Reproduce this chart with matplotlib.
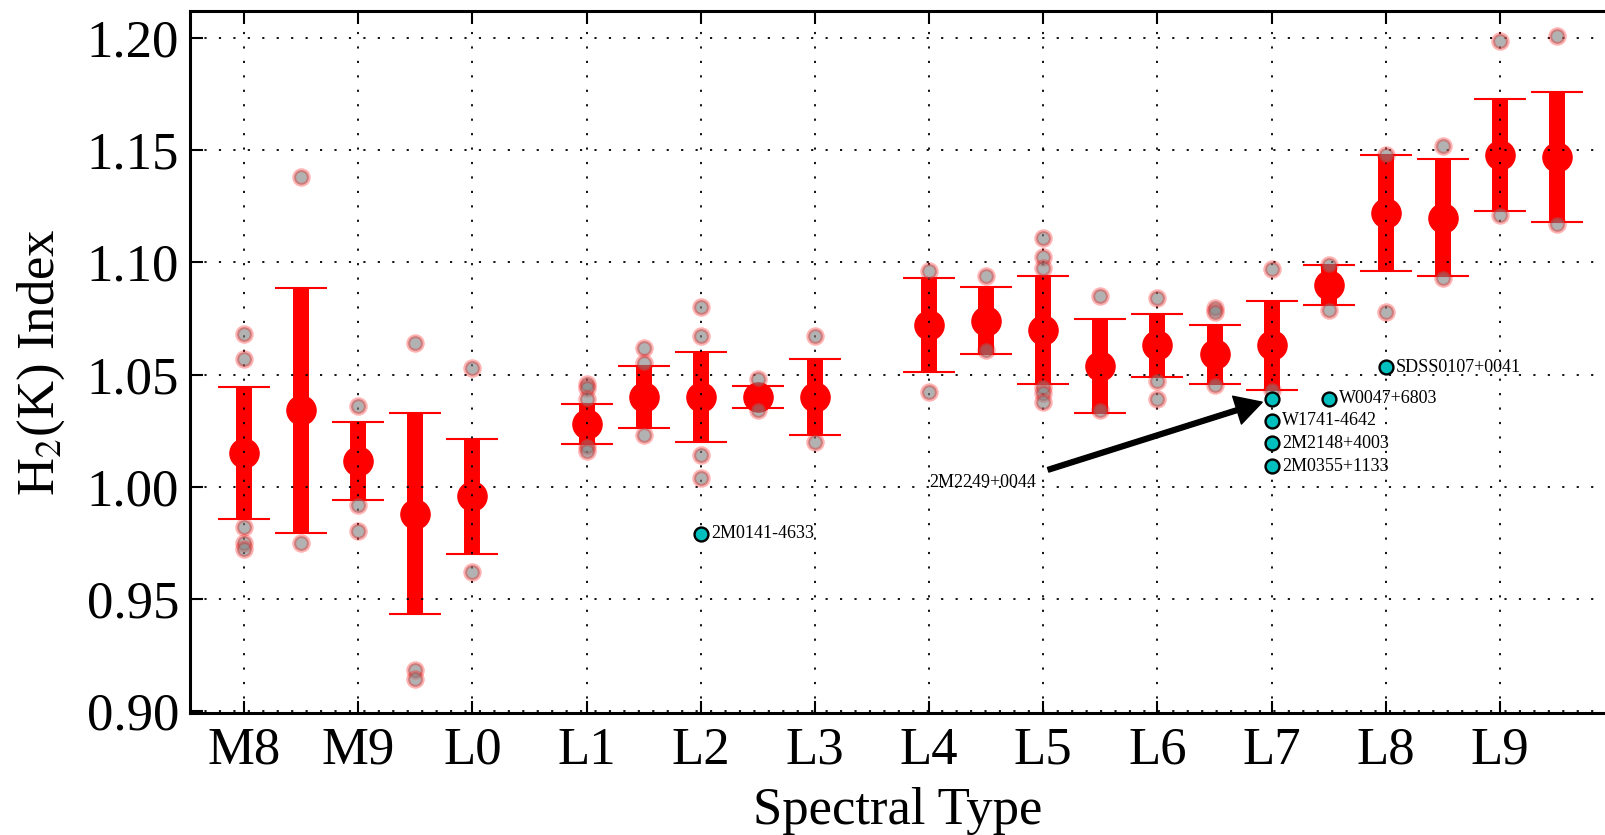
import matplotlib
matplotlib.use("Agg")
import matplotlib.pyplot as plt
import numpy as np

plt.rcParams['font.family'] = ['Liberation Serif', 'DejaVu Serif']
plt.rcParams['mathtext.fontset'] = 'stix'

# ---- data ----
# spectral type numeric: M8=0, M9=1, L0=2, ... L9=11
tick_pos = [0, 1, 2, 3, 4, 5, 6, 7, 8, 9, 10, 11]
tick_labels = ['M8', 'M9', 'L0', 'L1', 'L2', 'L3', 'L4', 'L5', 'L6', 'L7', 'L8', 'L9']

mean_type = [0, 0.5, 1, 1.5, 2, 3, 3.5, 4, 4.5, 5, 6, 6.5, 7, 7.5, 8, 8.5, 9, 9.5, 10, 10.5, 11, 11.5]
mean_val = [1.015, 1.034, 1.0115, 0.988, 0.9956, 1.028, 1.040, 1.040, 1.040, 1.040,
            1.072, 1.074, 1.070, 1.054, 1.063, 1.059, 1.063, 1.090, 1.122, 1.120, 1.148, 1.147]
mean_err = [0.0295, 0.0547, 0.0174, 0.045, 0.0257, 0.009, 0.014, 0.020, 0.005, 0.017,
            0.021, 0.015, 0.024, 0.021, 0.014, 0.013, 0.020, 0.009, 0.026, 0.026, 0.025, 0.029]

pt_type = [0, 0, 0, 0, 0,
           0.5, 0.5,
           1, 1, 1,
           1.5, 1.5, 1.5,
           2, 2,
           3, 3, 3, 3, 3,
           3.5, 3.5, 3.5,
           4, 4, 4, 4,
           4.5, 4.5,
           5, 5,
           6, 6,
           6.5, 6.5,
           7, 7, 7, 7, 7, 7,
           7.5, 7.5,
           8, 8, 8,
           8.5, 8.5, 8.5,
           9, 9,
           9.5, 9.5,
           10, 10,
           10.5, 10.5,
           11, 11,
           11.5, 11.5]
pt_val = [1.068, 1.057, 0.982, 0.975, 0.972,
          1.138, 0.975,
          1.036, 0.992, 0.980,
          1.064, 0.918, 0.914,
          1.053, 0.962,
          1.046, 1.044, 1.039, 1.018, 1.016,
          1.062, 1.055, 1.023,
          1.080, 1.067, 1.014, 1.004,
          1.048, 1.034,
          1.067, 1.020,
          1.096, 1.042,
          1.094, 1.061,
          1.111, 1.1026, 1.0976, 1.0445, 1.0416, 1.0378,
          1.085, 1.034,
          1.084, 1.047, 1.039,
          1.0795, 1.078, 1.0455,
          1.097, 1.043,
          1.099, 1.079,
          1.148, 1.078,
          1.152, 1.093,
          1.199, 1.121,
          1.201, 1.117]

obj_type = [4, 9, 9, 9, 9, 9.5, 10]
obj_val = [0.979, 1.039, 1.0294, 1.0193, 1.0091, 1.0392, 1.0532]
obj_name = ['2M0141-4633', '2M2249+0044', 'W1741-4642', '2M2148+4003',
            '2M0355+1133', 'W0047+6803', 'SDSS0107+0041']
arrow_obj = '2M2249+0044'
arrow_text_pos = (6.0, 1.0)

# ---- figure ----
W, H = 1605, 835
fig = plt.figure(figsize=(W / 100, H / 100), dpi=100)
ax = fig.add_axes([190 / W, 1 - 713 / H, (W - 190) / W, (713 - 11) / H])

ax.errorbar(mean_type, mean_val, yerr=mean_err, fmt='o', color='red',
            ms=21, elinewidth=11.5, capsize=19, capthick=1.5, ecolor='red',
            mec='red', zorder=2)

ax.plot(pt_type, pt_val, 'o', ls='none', ms=10.5, mew=2.8,
        mfc=(0.5, 0.5, 0.5, 0.6), mec=(1, 0, 0, 0.3), zorder=3)

ax.plot(obj_type, obj_val, 'o', ls='none', ms=10, mew=1.7,
        mfc='c', mec='k', zorder=4)

for xx, yy, nm in zip(obj_type, obj_val, obj_name):
    if nm == arrow_obj:
        ax.annotate(nm, xy=(xx, yy), xytext=arrow_text_pos, fontsize=13,
                    arrowprops=dict(facecolor='black', edgecolor='black',
                                    shrink=0.04, width=3.5, headwidth=21,
                                    headlength=19), zorder=5)
    else:
        ax.text(xx + 0.09, yy, nm, fontsize=13, va='center', ha='left', zorder=5)

ax.set_xlim(-0.473, (W - 244) / 114.18)
ax.set_ylim(0.899, 1.2122)
ax.set_xticks(tick_pos)
ax.set_xticklabels(tick_labels)
ax.set_yticks([0.90, 0.95, 1.00, 1.05, 1.10, 1.15, 1.20])
ax.set_yticklabels(['%.2f' % v for v in [0.90, 0.95, 1.00, 1.05, 1.10, 1.15, 1.20]])

ax.set_axisbelow(False)
ax.grid(True, color='black', linestyle=(0, (1.2, 6.8)), linewidth=1.3, zorder=6)

ax.tick_params(axis='both', direction='in', labelsize=38, length=9, width=1.5,
               top=True, right=False)
ax.tick_params(axis='x', pad=10)
ax.tick_params(axis='y', pad=8)
for s in ['left', 'top', 'bottom']:
    ax.spines[s].set_linewidth(2.2)
ax.spines['right'].set_visible(False)

ax.set_xlabel('Spectral Type', fontsize=38, labelpad=9)
ax.set_ylabel(r'H$_2$(K) Index', fontsize=38, labelpad=14)

fig.savefig('out.png', dpi=100)
